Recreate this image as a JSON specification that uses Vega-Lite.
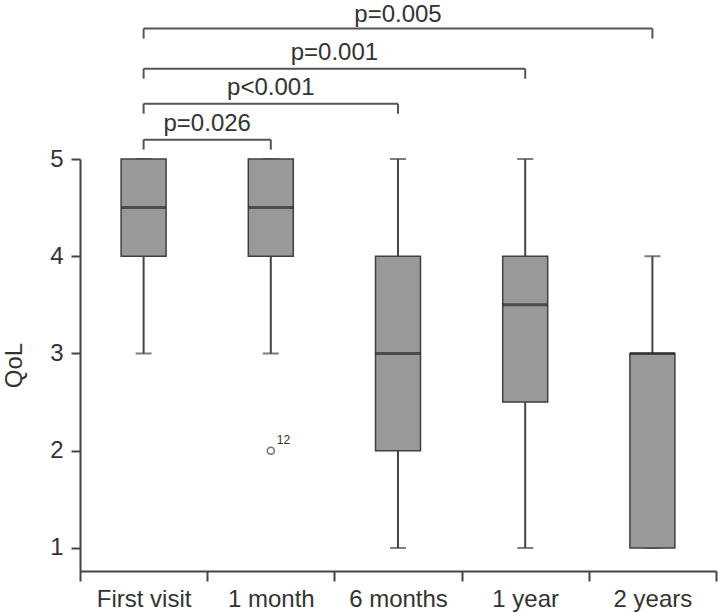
{
  "$schema": "https://vega.github.io/schema/vega-lite/v6.json",
  "width": 636,
  "height": 412,
  "autosize": {"type": "none"},
  "padding": {"left": 80, "top": 159, "right": 2, "bottom": 42},
  "background": "white",
  "config": {
    "view": {"stroke": null},
    "font": "Liberation Sans",
    "axis": {"grid": false, "domainColor": "#444", "domainWidth": 2, "tickColor": "#444", "tickWidth": 2, "labelColor": "#333", "titleColor": "#333", "labelFont": "Liberation Sans", "titleFont": "Liberation Sans", "labelFontSize": 24, "titleFontSize": 24, "titleFontWeight": "normal"}
  },
  "datasets": {
    "boxes": [
      {"cat": "First visit", "min": 3, "q1": 4, "med": 4.5, "q3": 5, "max": 5},
      {"cat": "1 month", "min": 3, "q1": 4, "med": 4.5, "q3": 5, "max": 5},
      {"cat": "6 months", "min": 1, "q1": 2, "med": 3, "q3": 4, "max": 5},
      {"cat": "1 year", "min": 1, "q1": 2.5, "med": 3.5, "q3": 4, "max": 5},
      {"cat": "2 years", "min": 1, "q1": 1, "med": 3, "q3": 3, "max": 4}
    ],
    "outliers": [
      {"cat": "1 month", "val": 2, "label": "12"}
    ],
    "brackets": [
      {"from": "First visit", "to": "2 years", "y": 6.341, "yleg": 6.238, "ty": 6.41, "label": "p=0.005", "mid": "6 months", "bp": "center"},
      {"from": "First visit", "to": "1 year", "y": 5.929, "yleg": 5.826, "ty": 6.02, "label": "p=0.001", "mid": "1 month", "bp": "edge"},
      {"from": "First visit", "to": "6 months", "y": 5.569, "yleg": 5.466, "ty": 5.655, "label": "p<0.001", "mid": "1 month", "bp": "center"},
      {"from": "First visit", "to": "1 month", "y": 5.199, "yleg": 5.096, "ty": 5.284, "label": "p=0.026", "mid": "First visit", "bp": "edge"}
    ]
  },
  "layer": [
    {
      "data": {"name": "boxes"},
      "mark": {"type": "rule", "color": "#444", "strokeWidth": 2},
      "encoding": {
        "x": {"field": "cat", "type": "nominal", "sort": null,
          "scale": {"domain": ["First visit", "1 month", "6 months", "1 year", "2 years"], "paddingInner": 0, "paddingOuter": 0},
          "axis": {"title": null, "labelAngle": 0, "tickBand": "extent", "tickSize": 10, "labelPadding": 6}},
        "y": {"field": "min", "type": "quantitative",
          "scale": {"domain": [0.763, 5], "nice": false, "zero": false},
          "axis": {"title": "QoL", "values": [1, 2, 3, 4, 5], "format": "d", "tickSize": 9, "labelPadding": 8, "titlePadding": 23}},
        "y2": {"field": "max"}
      }
    },
    {
      "data": {"name": "boxes"},
      "mark": {"type": "tick", "color": "#444", "size": 16, "thickness": 2},
      "encoding": {
        "x": {"field": "cat", "type": "nominal", "sort": null},
        "y": {"field": "min", "type": "quantitative"}
      }
    },
    {
      "data": {"name": "boxes"},
      "mark": {"type": "tick", "color": "#444", "size": 16, "thickness": 2},
      "encoding": {
        "x": {"field": "cat", "type": "nominal", "sort": null},
        "y": {"field": "max", "type": "quantitative"}
      }
    },
    {
      "data": {"name": "boxes"},
      "mark": {"type": "bar", "width": 45, "fill": "#999999", "stroke": "#404040", "strokeWidth": 1.5},
      "encoding": {
        "x": {"field": "cat", "type": "nominal", "sort": null},
        "y": {"field": "q1", "type": "quantitative"},
        "y2": {"field": "q3"}
      }
    },
    {
      "data": {"name": "boxes"},
      "mark": {"type": "tick", "color": "#2a2a2a", "size": 45, "thickness": 3},
      "encoding": {
        "x": {"field": "cat", "type": "nominal", "sort": null},
        "y": {"field": "med", "type": "quantitative"}
      }
    },
    {
      "data": {"name": "outliers"},
      "mark": {"type": "point", "shape": "circle", "filled": false, "stroke": "#333", "strokeWidth": 1.5, "size": 50},
      "encoding": {
        "x": {"field": "cat", "type": "nominal", "sort": null},
        "y": {"field": "val", "type": "quantitative"}
      }
    },
    {
      "data": {"name": "outliers"},
      "mark": {"type": "text", "align": "left", "baseline": "alphabetic", "dx": 6, "dy": -7, "fontSize": 12, "color": "#333"},
      "encoding": {
        "x": {"field": "cat", "type": "nominal", "sort": null},
        "y": {"field": "val", "type": "quantitative"},
        "text": {"field": "label"}
      }
    },
    {
      "data": {"name": "brackets"},
      "mark": {"type": "rule", "color": "#555", "strokeWidth": 2},
      "encoding": {
        "x": {"field": "from", "type": "nominal", "sort": null},
        "x2": {"field": "to"},
        "y": {"field": "y", "type": "quantitative"}
      }
    },
    {
      "data": {"name": "brackets"},
      "mark": {"type": "rule", "color": "#555", "strokeWidth": 2},
      "encoding": {
        "x": {"field": "from", "type": "nominal", "sort": null},
        "y": {"field": "yleg", "type": "quantitative"},
        "y2": {"field": "y"}
      }
    },
    {
      "data": {"name": "brackets"},
      "mark": {"type": "rule", "color": "#555", "strokeWidth": 2},
      "encoding": {
        "x": {"field": "to", "type": "nominal", "sort": null},
        "y": {"field": "yleg", "type": "quantitative"},
        "y2": {"field": "y"}
      }
    },
    {
      "data": {"name": "brackets"},
      "transform": [{"filter": "datum.bp === 'center'"}],
      "mark": {"type": "text", "align": "center", "baseline": "alphabetic", "fontSize": 24, "color": "#333"},
      "encoding": {
        "x": {"field": "mid", "type": "nominal", "sort": null},
        "y": {"field": "ty", "type": "quantitative"},
        "text": {"field": "label"}
      }
    },
    {
      "data": {"name": "brackets"},
      "transform": [{"filter": "datum.bp === 'edge'"}],
      "mark": {"type": "text", "align": "center", "baseline": "alphabetic", "fontSize": 24, "color": "#333"},
      "encoding": {
        "x": {"field": "mid", "type": "nominal", "sort": null, "bandPosition": 1},
        "y": {"field": "ty", "type": "quantitative"},
        "text": {"field": "label"}
      }
    }
  ]
}
